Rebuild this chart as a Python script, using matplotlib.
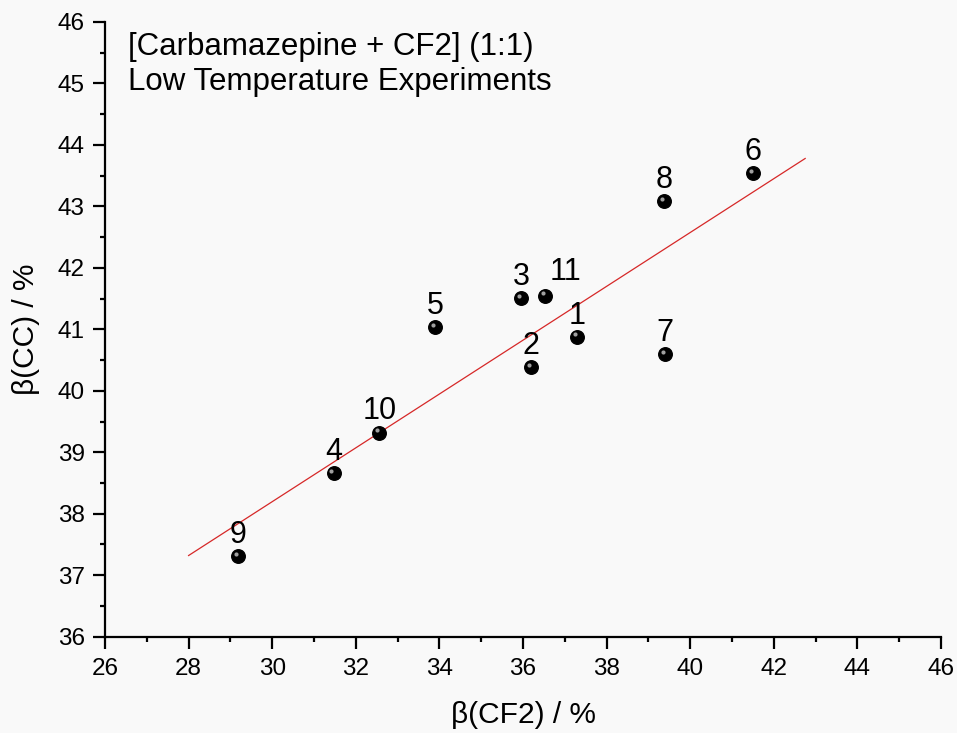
import matplotlib
matplotlib.use("Agg")
import matplotlib.pyplot as plt
import matplotlib.transforms as mtransforms
import numpy as np

plt.rcParams['font.family'] = ['Liberation Sans', 'DejaVu Sans']

# experiment number, beta(CF2) and beta(CC) in %
labels = ["1", "2", "3", "4", "5", "6", "7", "8", "9", "10", "11"]
beta_cf2 = [37.29, 36.19, 35.95, 31.47, 33.89, 41.50, 39.40, 39.37, 29.18, 32.56, 36.53]
beta_cc = [40.88, 40.39, 41.51, 38.66, 41.04, 43.54, 40.60, 43.09, 37.31, 39.32, 41.55]

# range of the fit line
fit_x = [28.0, 42.75]

fig = plt.figure(figsize=(9.57, 7.33), dpi=100)
fig.patch.set_facecolor("#f9f9f9")
ax = fig.add_axes([0.1097, 0.1314, 0.8736, 0.8386])
ax.set_facecolor("#f9f9f9")

# linear fit
slope, icpt = np.polyfit(beta_cf2, beta_cc, 1)
fx = np.array(fit_x)
ax.plot(fx, slope * fx + icpt, color="#d62828", lw=0.9, zorder=2)

# ball markers: black disc + small highlight
ax.scatter(beta_cf2, beta_cc, s=95, color="black", zorder=3)
hl = mtransforms.offset_copy(ax.transData, fig=fig, x=-1.6, y=1.6, units="points")
ax.scatter(beta_cf2, beta_cc, s=9, color="#a0a0a0", transform=hl, zorder=4, linewidths=0)

# label "11" was nudged right in the original so it doesn't run into "3"
nudge = {"11": (15, 11)}
for lab, x, y in zip(labels, beta_cf2, beta_cc):
    ax.annotate(lab, (x, y), xytext=nudge.get(lab, (0, 9.5)), textcoords="offset points",
                ha="center", va="baseline", fontsize=22, color="black")

ax.text(0.0275, 0.9463, "[Carbamazepine + CF2] (1:1)", transform=ax.transAxes,
        ha="left", va="baseline", fontsize=22.5)
ax.text(0.0275, 0.8899, "Low Temperature Experiments", transform=ax.transAxes,
        ha="left", va="baseline", fontsize=22.5)

ax.set_xlim(26, 46)
ax.set_ylim(36, 46)
ax.set_xticks(np.arange(26, 47, 2))
ax.set_xticks(np.arange(27, 46, 2), minor=True)
ax.set_yticks(np.arange(36, 47, 1))
ax.set_yticks(np.arange(36.5, 46, 1), minor=True)

for s in ["top", "right"]:
    ax.spines[s].set_visible(False)
for s in ["left", "bottom"]:
    ax.spines[s].set_linewidth(1.6)
ax.tick_params(which="major", direction="out", length=8.5, width=1.6, labelsize=17.5)
ax.tick_params(axis="x", which="major", pad=6.5)
ax.tick_params(axis="y", which="major", pad=6)
ax.tick_params(which="minor", direction="out", length=3.8, width=1.6)

ax.set_xlabel("β(CF2) / %", fontsize=21.5)
ax.set_ylabel("β(CC) / %", fontsize=21.5)
ax.xaxis.set_label_coords(0.5, -0.104)
ax.yaxis.set_label_coords(-0.078, 0.5)

fig.savefig("out.png", dpi=100, facecolor=fig.get_facecolor())
